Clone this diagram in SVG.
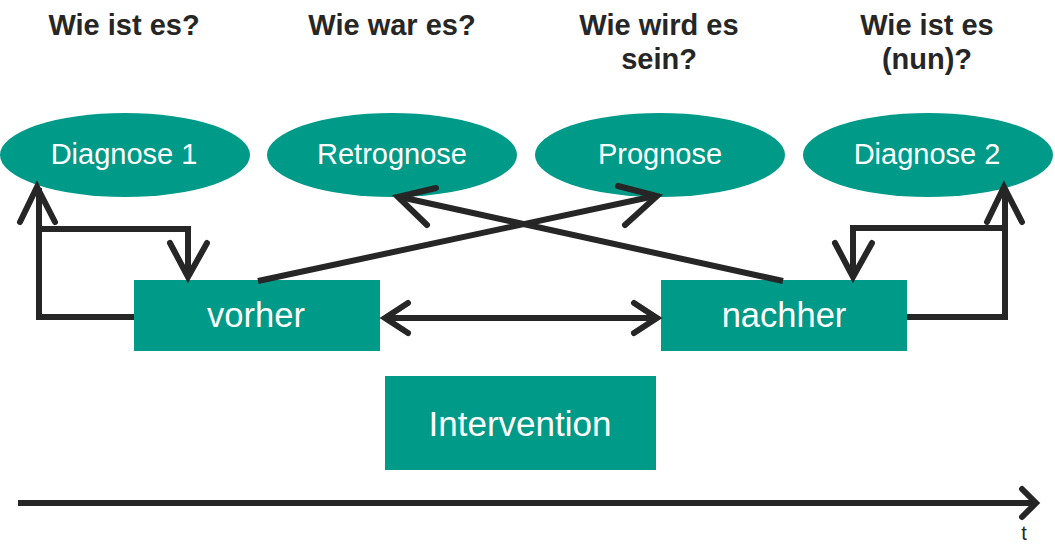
<svg xmlns="http://www.w3.org/2000/svg" width="1055" height="553" viewBox="0 0 1055 553">
<style>
.n{fill:#009A88}
.h{font-family:"Liberation Sans",Arial,sans-serif;font-weight:bold;font-size:29px;fill:#262626;text-anchor:middle}
.l{font-family:"Liberation Sans",Arial,sans-serif;fill:#fff;text-anchor:middle}
.c{fill:none;stroke:#262626;stroke-width:6;stroke-linecap:round;stroke-linejoin:miter}
.c2{fill:none;stroke:#262626;stroke-width:6;stroke-linecap:butt}
</style>
<rect width="1055" height="553" fill="#fff"/>
<g id="questions">
<text class="h" x="124" y="35">Wie ist es?</text>
<text class="h" x="392" y="35">Wie war es?</text>
<text class="h" x="659" y="35">Wie wird es</text>
<text class="h" x="659" y="69">sein?</text>
<text class="h" x="927" y="35">Wie ist es</text>
<text class="h" x="927" y="69">(nun)?</text>
</g>
<g id="diagnose1"><ellipse class="n" cx="125" cy="155" rx="125" ry="42"/><text class="l" x="124" y="164" font-size="29">Diagnose 1</text></g>
<g id="retrognose"><ellipse class="n" cx="392" cy="155" rx="125" ry="42"/><text class="l" x="392" y="164" font-size="29">Retrognose</text></g>
<g id="prognose"><ellipse class="n" cx="660" cy="155" rx="125" ry="42"/><text class="l" x="660" y="164" font-size="29">Prognose</text></g>
<g id="diagnose2"><ellipse class="n" cx="928" cy="155" rx="125" ry="42"/><text class="l" x="927" y="164" font-size="29">Diagnose 2</text></g>
<g id="vorher"><rect class="n" x="134" y="280" width="246" height="71"/><text class="l" x="256" y="327" font-size="34.5">vorher</text></g>
<g id="nachher"><rect class="n" x="661" y="280" width="246" height="71"/><text class="l" x="784" y="327" font-size="34.5">nachher</text></g>
<g id="intervention"><rect class="n" x="385" y="376" width="271" height="94"/><text class="l" x="520" y="436" font-size="35">Intervention</text></g>
<g id="connectors">
<path class="c2" d="M134 317 H39 V188"/>
<path class="c" d="M20 222 L37 187 L55 222"/>
<path class="c2" d="M39 229 H188 V276"/>
<path class="c" d="M170 243 L188 277 L207 243"/>
<path class="c2" d="M907 317 H1005 V188"/>
<path class="c" d="M987 222 L1004 187 L1022 222"/>
<path class="c2" d="M1005 228 H853 V276"/>
<path class="c" d="M835 243 L853 277 L872 243"/>
<path class="c2" d="M258 281 L655 196"/>
<path class="c" d="M618 186 L657 196 L625 225"/>
<path class="c2" d="M783 281 L400 197"/>
<path class="c" d="M436 188 L398 197 L427 225"/>
<path class="c2" d="M386 318 H656"/>
<path class="c" d="M408 303 L385 318 L408 333"/>
<path class="c" d="M634 303 L657 318 L634 333"/>
<path class="c2" d="M18 503 H1034"/>
<path class="c" d="M1022 489 L1036 503 L1022 517"/>
</g>
<text x="1024" y="540" font-family="Liberation Sans,Arial,sans-serif" font-size="20" fill="#262626" text-anchor="middle">t</text>
</svg>
